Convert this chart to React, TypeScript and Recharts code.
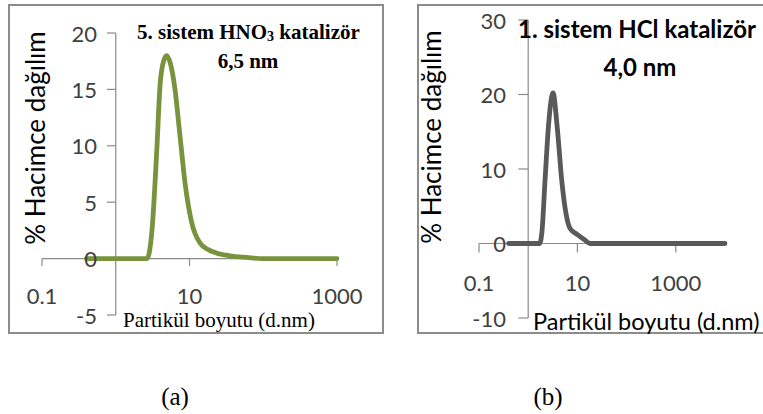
import React from "react";
import { LineChart, Line, XAxis, YAxis, ReferenceLine } from "recharts";

// (a) 5. sistem HNO3 katalizör – particle size (d.nm) vs % volume
const sizeA = [0.4, 1, 2, 2.65, 3.1, 3.6, 4.0, 4.5, 4.9, 5.5, 6.3, 7.4, 8.7, 10.7, 13.8, 18, 23, 35, 60, 100, 300, 1000];
const volA = [0, 0, 0, 0, 2.5, 9.6, 15.5, 17.6, 18, 17.3, 15.2, 11, 6.7, 3.2, 1.4, 0.8, 0.5, 0.25, 0.1, 0, 0, 0];
const xTicksA = [0.1, 10, 1000];
const yTicksA = [-5, 0, 5, 10, 15, 20];

// (b) 1. sistem HCl katalizör
const sizeB = [0.4, 1, 1.7, 1.9, 2.2, 2.6, 3.2, 3.9, 4.8, 5.8, 7.1, 10, 14, 18, 100, 1000, 10000];
const volB = [0, 0, 0, 1.5, 8.5, 16, 20.2, 15.5, 8.5, 4.2, 2.0, 1.2, 0.5, 0, 0, 0, 0];
const xTicksB = [0.1, 10, 1000];
const yTicksB = [-10, 0, 10, 20, 30];

const dataA = sizeA.map((s, i) => ({ size: s, vol: volA[i] }));
const dataB = sizeB.map((s, i) => ({ size: s, vol: volB[i] }));

const AXIS = "#8a8a8a";
const LABEL = "#404040";
const SANS = "Lato, 'Noto Sans', sans-serif";
const SERIF = "'Liberation Serif', 'DejaVu Serif', serif";

function Panel(p: any) {
  return (
    <LineChart width={p.width} height={p.height} data={p.data} margin={p.margin}>
      <XAxis
        dataKey="size"
        type="number"
        scale="log"
        domain={p.xDomain}
        ticks={p.xTicks}
        interval={0}
        height={1}
        tickSize={0}
        tickMargin={0}
        axisLine={false}
        tick={(t: any) => (
          <text x={t.x} y={t.y + p.xLabelDy} textAnchor="middle" dominantBaseline="central"
            fontFamily={SANS} fontSize={22} fill={LABEL}>
            {t.payload.value}
          </text>
        )}
      />
      <YAxis
        type="number"
        domain={p.yDomain}
        ticks={p.yTicks}
        interval={0}
        width={1}
        tickSize={0}
        tickMargin={0}
        axisLine={false}
        tick={(t: any) => (
          <text x={t.x + p.yLabelDx} y={t.y} textAnchor="end" dominantBaseline="central"
            fontFamily={SANS} fontSize={22} fill={LABEL}>
            {t.payload.value}
          </text>
        )}
      />
      <ReferenceLine y={0} stroke={AXIS} strokeWidth={1.2} />
      <ReferenceLine x={1} stroke={AXIS} strokeWidth={1.2} />
      {p.xTicks.map((t: number) => (
        <ReferenceLine key={"xt" + t} segment={[{ x: t, y: 0 }, { x: t, y: -p.xTickLen }]} stroke={AXIS} strokeWidth={1.2} />
      ))}
      {p.yTicks.map((t: number) => (
        <ReferenceLine key={"yt" + t} segment={[{ x: 1, y: t }, { x: p.yTickEnd, y: t }]} stroke={AXIS} strokeWidth={1.2} />
      ))}
      <Line
        dataKey="vol"
        type="monotone"
        stroke={p.color}
        strokeWidth={4.8}
        strokeLinecap="round"
        dot={false}
        isAnimationActive={false}
      />
    </LineChart>
  );
}

function T(p: any) {
  const tx = p.anchor === "middle" ? "-50%" : p.anchor === "end" ? "-100%" : "0";
  return (
    <div
      style={{
        position: "absolute",
        left: p.x,
        top: p.y,
        transform: `translate(${tx}, -50%)`,
        fontSize: p.size,
        fontFamily: p.family,
        fontWeight: p.bold ? 700 : 400,
        lineHeight: 1,
        whiteSpace: "nowrap",
        color: p.color || "#000",
      }}
    >
      {p.children}
    </div>
  );
}

function VT(p: any) {
  return (
    <div
      style={{
        position: "absolute",
        left: p.x,
        top: p.y,
        transform: "translate(-50%, -50%) rotate(-90deg)",
        fontSize: p.size,
        fontFamily: p.family,
        lineHeight: 1,
        whiteSpace: "nowrap",
        color: "#000",
      }}
    >
      {p.children}
    </div>
  );
}

export default function App() {
  return (
    <div style={{ position: "absolute", left: 0, top: 0, width: 763, height: 414, background: "#fff", overflow: "hidden" }}>
      <div style={{ position: "absolute", left: 8, top: 4, width: 372, height: 326, border: "2px solid #8c8c8c" }} />
      <div style={{ position: "absolute", left: 417, top: 4, width: 400, height: 326, border: "2px solid #8c8c8c" }} />

      <div style={{ position: "absolute", left: 0, top: 0 }}>
        <Panel
          width={390}
          height={340}
          data={dataA}
          margin={{ top: 33, left: 41, right: 53, bottom: 24 }}
          xDomain={[0.1, 1000]}
          yDomain={[-5, 20]}
          xTicks={xTicksA}
          yTicks={yTicksA}
          xLabelDy={-20}
          yLabelDx={55}
          xTickLen={0.65}
          yTickEnd={0.76}
          color="#77933c"
        />
      </div>
      <div style={{ position: "absolute", left: 390, top: 0 }}>
        <Panel
          width={373}
          height={340}
          data={dataB}
          margin={{ top: 20, left: 88, right: 38, bottom: 21 }}
          xDomain={[0.1, 10000]}
          yDomain={[-10, 30]}
          xTicks={xTicksB}
          yTicks={yTicksB}
          xLabelDy={-36}
          yLabelDx={27}
          xTickLen={1.2}
          yTickEnd={0.63}
          color="#595959"
        />
      </div>

      <T x={137} y={33} size={21} family={SERIF} bold>
        5. sistem HNO<span style={{ fontSize: 14, verticalAlign: "-0.2em" }}>3</span> katalizör
      </T>
      <T x={248} y={61} size={21} family={SERIF} bold anchor="middle">6,5 nm</T>
      <VT x={35} y={138} size={26} family={SANS}>% Hacimce dağılım</VT>
      <T x={123} y={320} size={21} family={SERIF}>Partikül boyutu (d.nm)</T>

      <T x={518} y={29} size={24} family={SANS} bold>1. sistem HCl katalizör</T>
      <T x={640} y={67} size={24} family={SANS} bold anchor="middle">4,0 nm</T>
      <VT x={431} y={137} size={26} family={SANS}>% Hacimce dağılım</VT>
      <T x={533} y={322} size={23.5} family={SANS}>Partikül boyutu (d.nm)</T>

      <T x={175} y={396} size={25} family={SERIF} anchor="middle">(a)</T>
      <T x={548} y={396} size={25} family={SERIF} anchor="middle">(b)</T>
    </div>
  );
}
